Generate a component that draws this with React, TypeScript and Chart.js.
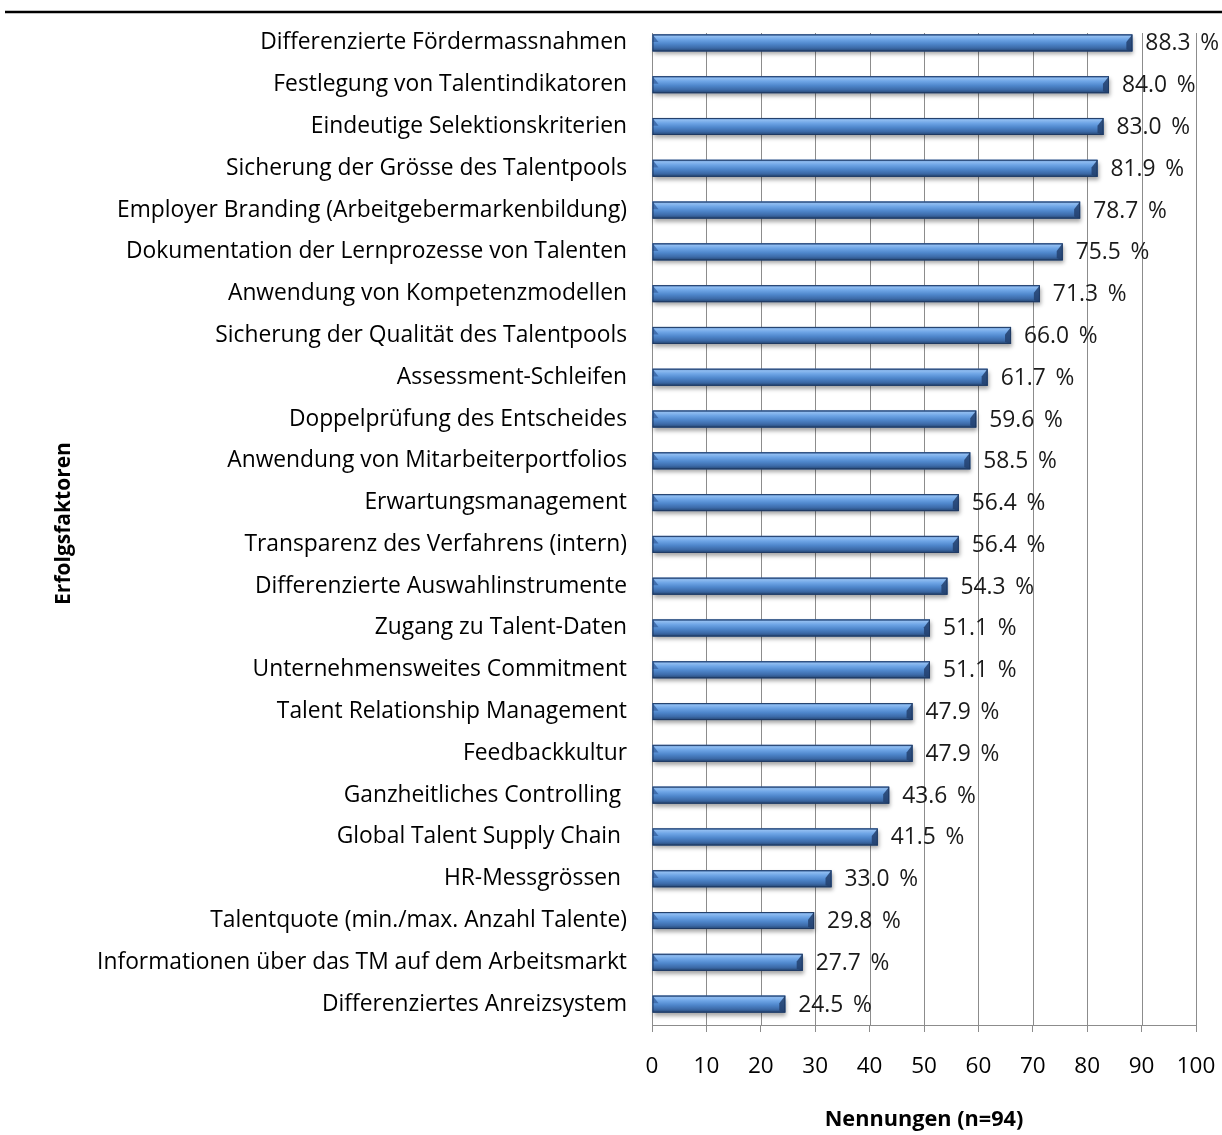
import React, { useEffect, useRef } from "react";
import { Chart, registerables } from "chart.js";

Chart.register(...registerables);

const categories = [
  "Differenzierte Fördermassnahmen",
  "Festlegung von Talentindikatoren",
  "Eindeutige Selektionskriterien",
  "Sicherung der Grösse des Talentpools",
  "Employer Branding (Arbeitgebermarkenbildung)",
  "Dokumentation der Lernprozesse von Talenten",
  "Anwendung von Kompetenzmodellen",
  "Sicherung der Qualität des Talentpools",
  "Assessment-Schleifen",
  "Doppelprüfung des Entscheides",
  "Anwendung von Mitarbeiterportfolios",
  "Erwartungsmanagement",
  "Transparenz des Verfahrens (intern)",
  "Differenzierte Auswahlinstrumente",
  "Zugang zu Talent-Daten",
  "Unternehmensweites Commitment",
  "Talent Relationship Management",
  "Feedbackkultur",
  "Ganzheitliches Controlling ",
  "Global Talent Supply Chain ",
  "HR-Messgrössen ",
  "Talentquote (min./max. Anzahl Talente)",
  "Informationen über das TM auf dem Arbeitsmarkt",
  "Differenziertes Anreizsystem",
];

const values = [
  88.3, 84.0, 83.0, 81.9, 78.7, 75.5, 71.3, 66.0, 61.7, 59.6, 58.5, 56.4,
  56.4, 54.3, 51.1, 51.1, 47.9, 47.9, 43.6, 41.5, 33.0, 29.8, 27.7, 24.5,
];

const xMin = 0;
const xMax = 100;
const xStep = 10;

const xTitle = "Nennungen (n=94)";
const yTitle = "Erfolgsfaktoren";

const FONT = "'Open Sans', 'DejaVu Sans', sans-serif";
const GRID = "#8c8c8c";

const barStyle = {
  id: "barStyle",
  beforeDatasetsDraw(chart: any) {
    const ctx = chart.ctx;
    const area = chart.chartArea;
    const xs = chart.scales.x;
    ctx.save();
    ctx.strokeStyle = GRID;
    ctx.lineWidth = 1;
    xs.ticks.forEach((t: any) => {
      const px = Math.round(xs.getPixelForValue(t.value)) + 0.5;
      ctx.beginPath();
      ctx.moveTo(px, area.top + 11);
      ctx.lineTo(px, area.bottom);
      ctx.stroke();
    });
    ctx.beginPath();
    ctx.moveTo(area.left, Math.round(area.bottom) + 0.5);
    ctx.lineTo(area.right, Math.round(area.bottom) + 0.5);
    ctx.stroke();

    const meta = chart.getDatasetMeta(0);
    meta.data.forEach((el: any) => {
      const p = el.getProps(["x", "y", "base", "height"], true);
      const left = Math.min(p.x, p.base);
      const w = Math.abs(p.x - p.base);
      const top = p.y - p.height / 2;
      ctx.shadowColor = "rgba(0,0,0,0.35)";
      ctx.shadowBlur = 4;
      ctx.shadowOffsetX = 1;
      ctx.shadowOffsetY = 3;
      ctx.fillStyle = "#3b64a0";
      ctx.fillRect(left, top, w, p.height);
    });
    ctx.restore();
  },
  afterDatasetsDraw(chart: any) {
    const ctx = chart.ctx;
    const meta = chart.getDatasetMeta(0);
    ctx.save();
    meta.data.forEach((el: any, i: number) => {
      const p = el.getProps(["x", "y", "base", "height"], true);
      const left = Math.min(p.x, p.base);
      const right = Math.max(p.x, p.base);
      const h = p.height;
      const top = p.y - h / 2;
      const bottom = top + h;
      const g = ctx.createLinearGradient(0, top, 0, bottom);
      g.addColorStop(0, "#4a7cc0");
      g.addColorStop(0.12, "#8fbcf0");
      g.addColorStop(0.3, "#6ea5e6");
      g.addColorStop(0.55, "#4f87cc");
      g.addColorStop(0.8, "#3c6aa8");
      g.addColorStop(1, "#24446f");
      ctx.fillStyle = g;
      ctx.fillRect(left, top, right - left, h);
      const b = Math.min(6, (right - left) / 3);
      ctx.fillStyle = "rgba(60,105,170,0.9)";
      ctx.beginPath();
      ctx.moveTo(left, top);
      ctx.lineTo(left + b, top + h * 0.45);
      ctx.lineTo(left, top + h * 0.45);
      ctx.closePath();
      ctx.fill();
      ctx.fillStyle = "rgba(35,65,110,0.85)";
      ctx.beginPath();
      ctx.moveTo(right, top);
      ctx.lineTo(right, bottom);
      ctx.lineTo(right - b, bottom - 2);
      ctx.lineTo(right - b, top + h * 0.45);
      ctx.closePath();
      ctx.fill();
      ctx.strokeStyle = "rgba(30,55,95,0.9)";
      ctx.lineWidth = 1;
      ctx.strokeRect(left + 0.5, top + 0.5, right - left - 1, h - 1);

      ctx.fillStyle = "#1a1a1a";
      ctx.font = `22.8px ${FONT}`;
      ctx.textAlign = "left";
      ctx.textBaseline = "middle";
      ctx.fillText(`${values[i].toFixed(1)} \u2009%`, right + 13, p.y + 1);
    });
    ctx.strokeStyle = "#000";
    ctx.lineWidth = 2.5;
    ctx.beginPath();
    ctx.moveTo(5, 12);
    ctx.lineTo(chart.width, 12);
    ctx.stroke();
    ctx.restore();
  },
};

export default function App() {
  const ref = useRef<HTMLCanvasElement | null>(null);
  useEffect(() => {
    if (!ref.current) return;
    const chart = new Chart(ref.current, {
      type: "bar",
      data: {
        labels: categories,
        datasets: [
          {
            data: values,
            backgroundColor: "rgba(0,0,0,0)",
            borderWidth: 0,
            barThickness: 17,
          },
        ],
      },
      options: {
        indexAxis: "y",
        animation: false,
        responsive: false,
        maintainAspectRatio: false,
        devicePixelRatio: 1,
        layout: { padding: { top: 22, right: 26, bottom: 0, left: 0 } },
        plugins: {
          legend: { display: false },
          tooltip: { enabled: false },
        },
        scales: {
          x: {
            min: xMin,
            max: xMax,
            ticks: {
              stepSize: xStep,
              color: "#000",
              font: { family: FONT, size: 22.5 },
              padding: 21,
            },
            grid: {
              color: GRID,
              lineWidth: 1,
              tickLength: 7,
              drawOnChartArea: false,
            },
            border: { display: false },
            title: {
              display: true,
              text: xTitle,
              color: "#000",
              font: { family: FONT, size: 21.7, weight: "bold" },
              padding: { top: 0, bottom: 2 },
            },
            afterFit: (s: any) => {
              s.height = 110;
              s.paddingLeft = 0;
              s.paddingRight = 0;
            },
          },
          y: {
            ticks: {
              color: "#000",
              font: { family: FONT, size: 22.8 },
              padding: 25,
            },
            grid: { display: false, drawTicks: false },
            border: { display: false },
            title: {
              display: true,
              text: yTitle,
              color: "#000",
              font: { family: FONT, size: 21, weight: "bold" },
              padding: { top: 51, bottom: 0 },
            },
            afterFit: (s: any) => {
              s.width = 652;
              s.paddingTop = 0;
              s.paddingBottom = 0;
            },
          },
        },
      },
      plugins: [barStyle],
    });
    return () => chart.destroy();
  }, []);
  return (
    <div style={{ position: "fixed", left: 0, top: 0, width: 1222, height: 1135, background: "#fff" }}>
      <canvas ref={ref} width={1222} height={1135} style={{ display: "block" }} />
    </div>
  );
}
